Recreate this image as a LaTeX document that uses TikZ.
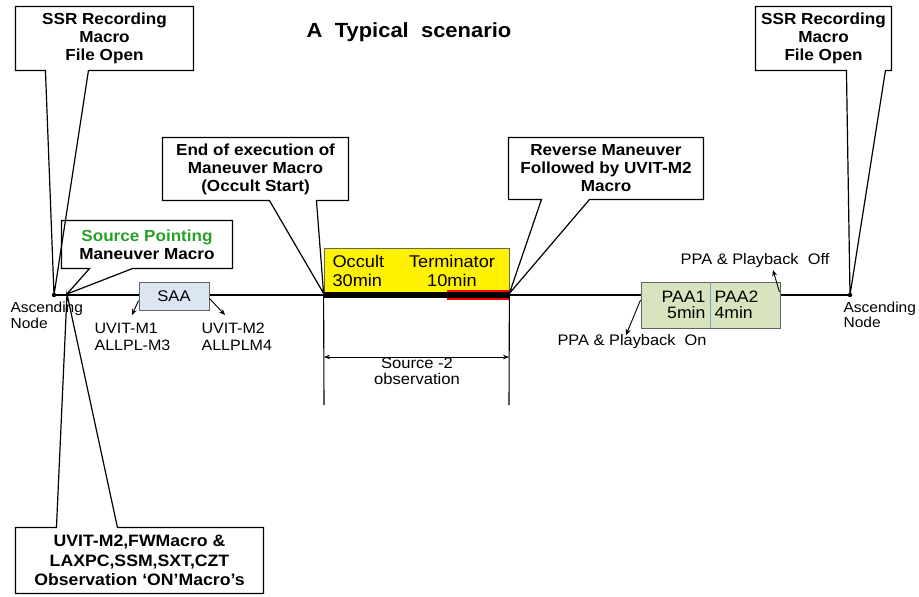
\documentclass[tikz,border=0pt]{standalone}
\usepackage{fontspec}
\setmainfont{Liberation Sans}[FakeStretch=1.07]
\usetikzlibrary{arrows.meta,calc}
\definecolor{ptgreen}{RGB}{40,160,40}
\definecolor{saafill}{RGB}{220,230,242}
\definecolor{paafill}{RGB}{215,228,189}
\definecolor{boxgray}{RGB}{100,100,100}
\definecolor{divblue}{RGB}{120,160,210}
\newcommand\fsz[2]{\fontsize{#1}{#2}\selectfont}
\begin{document}
\begin{tikzpicture}[x=1pt,y=-1pt,line width=1.1pt,
  cbox/.style={inner sep=0pt,align=center,font=\bfseries\fsz{16}{18}},
  callout/.style={line width=1.2pt,line join=miter},
  dotnode/.style={circle,fill=black,inner sep=0pt,minimum size=4.5pt},
  lbl/.style={inner sep=0pt,align=left,font=\fsz{15}{17}},
  small/.style={inner sep=0pt,align=left,font=\fsz{14.5}{15.5}},
  arr/.style={line width=0.9pt,-{Stealth[length=6pt,width=5pt]}}]
\useasboundingbox (0,0) rectangle (919,597);

% title
\node[font=\bfseries\fsz{20.5}{22}] (title) at (409,32) {A\hspace{0.6em}Typical\hspace{0.6em}scenario};

% timeline
\node[dotnode] (lan) at (54,295) {};
\node[dotnode] (ran) at (850,295) {};
\draw[line width=1.2pt] (lan.center) -- (ran.center);

% ascending node labels
\node[small,anchor=west] (anL) at (10,315.5) {Ascending\\Node};
\node[small,anchor=west] (anR) at (843,315) {Ascending\\Node};

% SAA
\node[draw=boxgray,line width=0.9pt,fill=saafill,minimum width=70pt,minimum height=28pt,inner sep=0pt,font=\fsz{15.5}{17}] (saa) at (174,296) {SAA};
\coordinate (saaL) at (132,315);
\coordinate (saaR) at (225,315);
\draw[arr] ($(saa.south west)+(0,-10)$) -- (saaL);
\draw[arr] ($(saa.south east)+(0,-12)$) -- (saaR);
\node[lbl,anchor=west] (m1) at (94,336.5) {UVIT-M1\\ALLPL-M3};
\node[lbl,anchor=west] (m2) at (201,336.5) {UVIT-M2\\ALLPLM4};

% occult / terminator box
\node[draw=boxgray,line width=0.8pt,fill=yellow,minimum width=185pt,minimum height=45pt,inner sep=0pt] (occ) at (416.5,270.5) {};
\fill[red] (447,290) rectangle (509,300);
\fill[black] (324,292) rectangle (509,298);
\node[inner sep=0pt,align=left,anchor=west,font=\fsz{17}{18.5}] (occt) at (332,271) {Occult\\30min};
\node[inner sep=0pt,align=center,font=\fsz{17}{18.5}] (term) at (452,271) {Terminator\\10min};

% source-2 dimension
\coordinate (vl) at (324,405);
\coordinate (vr) at (509,405);
\draw[line width=1.1pt] (occ.south west) -- (vl);
\draw[line width=1.1pt] (occ.south east) -- (vr);
\coordinate (al) at (324,357);
\coordinate (ar) at (509,357);
\draw[line width=0.9pt,{Stealth[length=6pt,width=4.5pt]}-{Stealth[length=6pt,width=4.5pt]}] (al) -- (ar);
\node[inner sep=0pt,align=center,font=\fsz{15.5}{16.5}] (src) at (417,371) {Source -2\\observation};

% PAA box
\node[draw=boxgray,line width=0.9pt,fill=paafill,minimum width=139pt,minimum height=46pt,inner sep=0pt] (paa) at (710.5,305) {};
\draw[divblue,line width=0.8pt] (paa.north) -- (paa.south);
\node[inner sep=0pt,align=right,anchor=east,font=\fsz{16.5}{16}] (paa1) at (706,305) {PAA1\\5min};
\node[inner sep=0pt,align=left,anchor=west,font=\fsz{16.5}{16}] (paa2) at (714,305) {PAA2\\4min};
\coordinate (onend) at (626,335);
\coordinate (offend) at (773,270);
\draw[arr] ($(paa.west)+(0,-5)$) -- (onend);
\draw[arr] ($(paa.east)+(-1,-13)$) -- (offend);
\node[inner sep=0pt,font=\fsz{15.3}{16}] (pon) at (632,341.5) {PPA \& Playback\ \ On};
\node[inner sep=0pt,font=\fsz{15.3}{16}] (poff) at (755,261) {PPA \& Playback\ \ Off};

% callouts
\coordinate (spA) at (67,294);
\node[cbox,minimum width=177pt,minimum height=63pt] (ssrL) at (104.5,38.5) {SSR Recording\\Macro\\File Open};
\draw[callout] (ssrL.north west) -- (ssrL.north east) -- (ssrL.south east) -- ($(ssrL.south west)+(73,0)$) -- (lan.center) -- ($(ssrL.south west)+(30,0)$) -- (ssrL.south west) -- cycle;

\node[cbox,minimum width=135pt,minimum height=63pt] (ssrR) at (823.5,38.5) {SSR Recording\\Macro\\File Open};
\draw[callout] (ssrR.north west) -- (ssrR.north east) -- (ssrR.south east) -- ($(ssrR.south west)+(130,0)$) -- (ran.center) -- ($(ssrR.south west)+(91,0)$) -- (ssrR.south west) -- cycle;

\node[cbox,minimum width=170pt,minimum height=47pt] (sp) at (147,244.5) {\textcolor{ptgreen}{Source Pointing}\\Maneuver Macro};
\draw[callout] (sp.north west) -- (sp.north east) -- (sp.south east) -- ($(sp.south west)+(71,0)$) -- (spA) -- ($(sp.south west)+(28,0)$) -- (sp.south west) -- cycle;

\node[cbox,font=\bfseries\fsz{16.5}{19.5},minimum width=247pt,minimum height=65pt] (obs) at (139.5,560.5) {UVIT-M2,FWMacro \&\\LAXPC,SSM,SXT,CZT\\Observation ‘ON’Macro’s};
\draw[callout] (obs.south west) -- (obs.south east) -- (obs.north east) -- ($(obs.north west)+(102,0)$) -- (spA) -- ($(obs.north west)+(41,0)$) -- (obs.north west) -- cycle;

\node[cbox,minimum width=185pt,minimum height=62pt] (eoe) at (255.5,169) {End of execution of\\Maneuver Macro\\(Occult Start)};
\draw[callout] (eoe.north west) -- (eoe.north east) -- (eoe.south east) -- ($(eoe.south west)+(154,0)$) -- (occ.south west) -- ($(eoe.south west)+(107,0)$) -- (eoe.south west) -- cycle;

\node[cbox,minimum width=194pt,minimum height=61pt] (rev) at (606,168.5) {Reverse Maneuver\\Followed by UVIT-M2\\Macro};
\draw[callout] (rev.north west) -- (rev.north east) -- (rev.south east) -- ($(rev.south west)+(81,0)$) -- (occ.south east) -- ($(rev.south west)+(33,0)$) -- (rev.south west) -- cycle;
\end{tikzpicture}
\end{document}
